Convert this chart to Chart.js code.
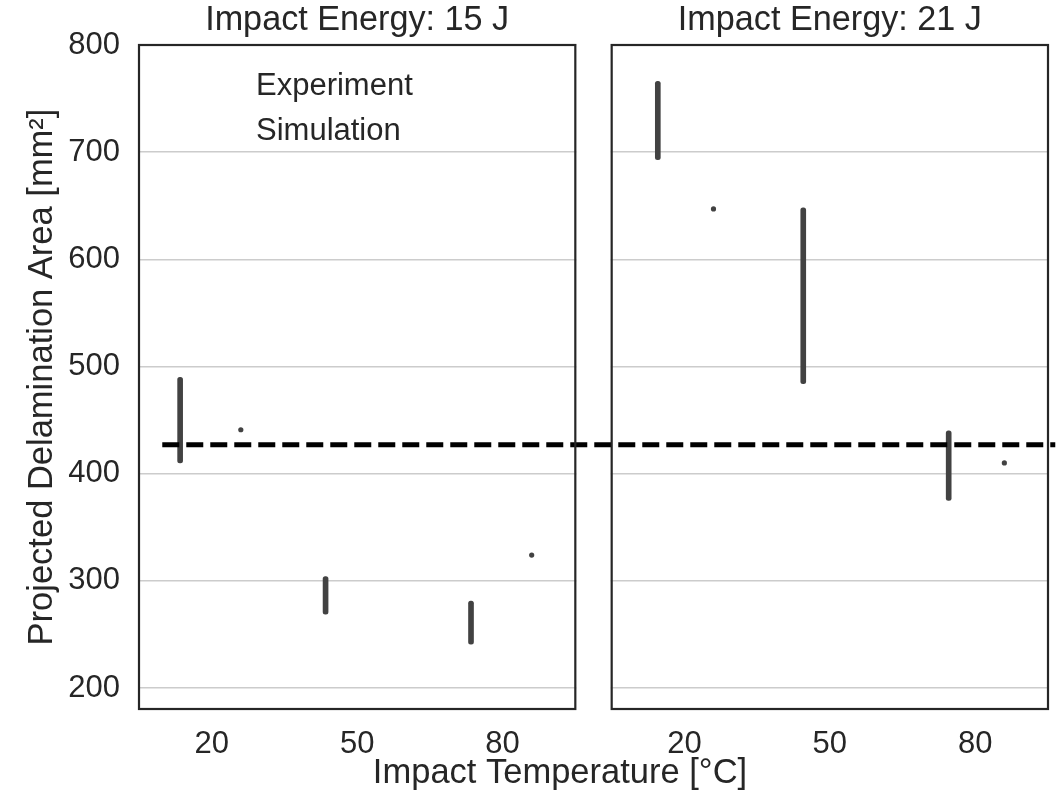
<!DOCTYPE html>
<html>
<head>
<meta charset="utf-8">
<script src="https://cdn.jsdelivr.net/npm/chart.js@4"></script>
<style>
html,body{margin:0;padding:0;background:#fff;}
#wrap{width:1061px;height:794px;position:relative;}
</style>
</head>
<body>
<div id="wrap"><canvas id="c" width="1061" height="794"></canvas></div>
<script>
// ---- data ----
const categories = ['20', '50', '80'];
const panelTitles = ['Impact Energy: 15 J', 'Impact Energy: 21 J'];
const seriesNames = ['Experiment', 'Simulation'];
const expLow15  = [410, 269, 241];
const expHigh15 = [490, 304, 281];
const expLow21  = [693, 484, 375];
const expHigh21 = [766, 648, 440];
const sim15 = [441, null, 324];
const sim21 = [647, null, 410];
const refLevel = 427;
const refSpan = [-0.34, 5.80];   // in category units across both panels
const yTicks = [200, 300, 400, 500, 600, 700, 800];
const yMin = 180.4, yMax = 800;
const xTitle = 'Impact Temperature [°C]';
const yTitle = 'Projected Delamination Area [mm²]';

// ---- layout helpers ----
const panelShift = 3.25;   // x offset of second panel in category units
const hueOffset = 0.2;
const ink = '#262626';
const markColor = '#424242';
const fontFam = '"Liberation Sans", Arial, Helvetica, sans-serif';

function expData(low, high, p) {
  return categories.map((c, i) => ({ x: i + p * panelShift - hueOffset, y: [low[i], high[i]] }));
}
function simData(vals, p) {
  return categories.map((c, i) => vals[i] == null ? null : ({ x: i + p * panelShift + hueOffset, y: vals[i] })).filter(d => d);
}

const panelRanges = [[-0.5, 2.5], [-0.5 + panelShift, 2.5 + panelShift]];

const decor = {
  id: 'decor',
  beforeDatasetsDraw(chart) {
    const { ctx, chartArea, scales } = chart;
    const x = scales.x;
    const g0 = x.getPixelForValue(panelRanges[0][1]);
    const g1 = x.getPixelForValue(panelRanges[1][0]);
    ctx.save();
    ctx.fillStyle = '#fff';
    ctx.fillRect(g0 + 1, chartArea.top - 2, g1 - g0 - 2, chartArea.bottom - chartArea.top + 4);
    ctx.restore();
  },
  afterDraw(chart) {
    const { ctx, chartArea, scales } = chart;
    const x = scales.x;
    ctx.save();
    ctx.strokeStyle = ink;
    ctx.lineWidth = 2.2;
    panelRanges.forEach((r, p) => {
      const l = x.getPixelForValue(r[0]);
      const rr = x.getPixelForValue(r[1]);
      ctx.strokeRect(l, chartArea.top, rr - l, chartArea.bottom - chartArea.top);
      ctx.fillStyle = ink;
      ctx.font = '34.2px ' + fontFam;
      ctx.textAlign = 'center';
      ctx.textBaseline = 'middle';
      ctx.fillText(panelTitles[p], (l + rr) / 2, 21);
    });
    // legend (text only, markers invisible as in reference)
    ctx.font = '31px ' + fontFam;
    ctx.textAlign = 'left';
    ctx.textBaseline = 'middle';
    ctx.fillStyle = ink;
    seriesNames.forEach((n, i) => ctx.fillText(n, 256, 86 + i * 45));
    // axis titles
    ctx.font = '34.5px ' + fontFam;
    ctx.textAlign = 'center';
    ctx.fillText(xTitle, 560, 773);
    ctx.translate(42, (chartArea.top + chartArea.bottom) / 2);
    ctx.rotate(-Math.PI / 2);
    ctx.fillText(yTitle, 0, 0);
    ctx.restore();
  }
};

const datasets = [
  { type: 'bar', label: seriesNames[0], data: expData(expLow15, expHigh15, 0),
    backgroundColor: markColor, barThickness: 5, borderRadius: 3, borderSkipped: false, order: 2 },
  { type: 'bar', label: seriesNames[0] + ' 21', data: expData(expLow21, expHigh21, 1),
    backgroundColor: markColor, barThickness: 5, borderRadius: 3, borderSkipped: false, order: 2 },
  { type: 'scatter', label: seriesNames[1], data: simData(sim15, 0),
    backgroundColor: markColor, borderWidth: 0, pointRadius: 2.6, order: 2 },
  { type: 'scatter', label: seriesNames[1] + ' 21', data: simData(sim21, 1),
    backgroundColor: markColor, borderWidth: 0, pointRadius: 2.6, order: 2 },
  { type: 'line', label: 'reference', data: refSpan.map(v => ({ x: v, y: refLevel })),
    borderColor: '#000', borderWidth: 4.8, borderDash: [17, 7], pointRadius: 0, clip: false, order: 1 }
];

const tickValues = [];
[0, 1].forEach(p => categories.forEach((c, i) => tickValues.push(i + p * panelShift)));

new Chart(document.getElementById('c'), {
  data: { datasets },
  options: {
    responsive: false,
    animation: false,
    devicePixelRatio: 1,
    layout: { padding: { left: 0, top: 45, right: 13, bottom: 0 } },
    plugins: { legend: { display: false }, tooltip: { enabled: false } },
    scales: {
      x: {
        type: 'linear', min: panelRanges[0][0], max: panelRanges[1][1], offset: false,
        grid: { display: false, drawTicks: false },
        border: { display: false },
        afterBuildTicks(s) { s.ticks = tickValues.map(v => ({ value: v })); },
        afterFit(s) { s.height = 85; },
        ticks: {
          autoSkip: false, maxRotation: 0, padding: 17, color: ink,
          font: { family: fontFam, size: 31 },
          callback(v) {
            const idx = tickValues.indexOf(v);
            return idx >= 0 ? categories[idx % categories.length] : '';
          }
        }
      },
      y: {
        type: 'linear', min: yMin, max: yMax,
        grid: { color: '#cccccc', lineWidth: 1.5, drawTicks: false },
        border: { display: false },
        afterBuildTicks(s) { s.ticks = yTicks.map(v => ({ value: v })); },
        afterFit(s) { s.width = 139; },
        ticks: { padding: 19, color: ink, font: { family: fontFam, size: 31 } }
      }
    }
  },
  plugins: [decor]
});
</script>
</body>
</html>
